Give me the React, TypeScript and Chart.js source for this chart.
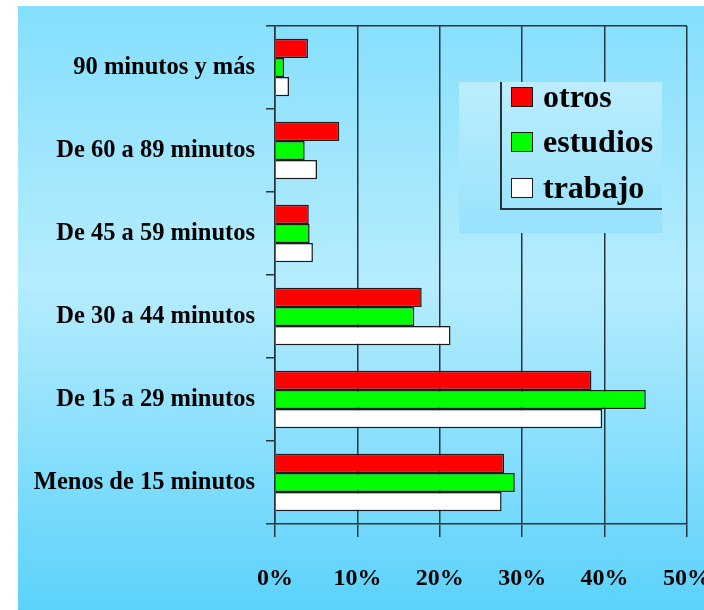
import React, { useEffect, useRef } from "react";
import { Chart, registerables } from "chart.js";

Chart.register(...registerables);

const categories = [
  "90 minutos y más",
  "De 60 a 89 minutos",
  "De 45 a 59 minutos",
  "De 30 a 44 minutos",
  "De 15 a 29 minutos",
  "Menos de 15 minutos",
];
const otros = [4.0, 7.8, 4.1, 17.8, 38.4, 27.8];
const estudios = [1.1, 3.6, 4.2, 16.9, 45.0, 29.1];
const trabajo = [1.7, 5.1, 4.6, 21.3, 39.7, 27.5];
const xTickLabels = ["0%", "10%", "20%", "30%", "40%", "50%"];

const seriesNames = ["otros", "estudios", "trabajo"];
const seriesColors = ["#ff0000", "#00ff00", "#ffffff"];

const FONT = '"Liberation Serif", "Times New Roman", serif';
const LINE = "#26353b";

export default function App() {
  const canvasRef = useRef<HTMLCanvasElement | null>(null);

  useEffect(() => {
    if (!canvasRef.current) return;
    const values = [otros, estudios, trabajo];
    const chart = new Chart(canvasRef.current, {
      type: "bar",
      data: {
        labels: categories,
        datasets: values.map((v, i) => ({
          label: seriesNames[i],
          data: v,
          backgroundColor: seriesColors[i],
          borderColor: "#1c1c1c",
          borderWidth: 1.5,
          categoryPercentage: 0.69,
          barPercentage: 1.0,
        })),
      },
      options: {
        indexAxis: "y",
        animation: false,
        responsive: true,
        maintainAspectRatio: false,
        layout: { padding: { top: 20, left: 0, right: 48, bottom: 0 } },
        plugins: {
          legend: { display: false },
          tooltip: { enabled: false },
        },
        scales: {
          x: {
            min: 0,
            max: 50,
            ticks: {
              stepSize: 10,
              color: "#000",
              padding: 27,
              font: { family: FONT, size: 24, weight: "bold" },
              callback: (_v: any, i: number) => xTickLabels[i],
            },
            grid: {
              color: LINE,
              lineWidth: 1.5,
              tickLength: 13,
              drawTicks: true,
            },
            border: { display: true, color: LINE, width: 1.5 },
            afterFit: (scale: any) => {
              scale.height = 86;
            },
          },
          y: {
            ticks: {
              color: "#000",
              padding: 11,
              font: { family: FONT, size: 24.5, weight: "bold" },
            },
            grid: {
              offset: true,
              color: (ctx: any) => (ctx.index === 0 ? LINE : "rgba(0,0,0,0)"),
              tickColor: LINE,
              lineWidth: 1.5,
              tickLength: 9,
              drawTicks: true,
            },
            border: { display: true, color: LINE, width: 1.5 },
            afterFit: (scale: any) => {
              scale.width = 257;
              scale.paddingTop = 0;
              scale.paddingBottom = 0;
            },
          },
        },
      },
    });
    return () => chart.destroy();
  }, []);

  const rowTops = [-2, 43, 89];

  return (
    <div
      style={{
        position: "absolute",
        left: 0,
        top: 0,
        width: 704,
        height: 610,
        overflow: "hidden",
        background: "#ffffff",
      }}
    >
      <div
        style={{
          position: "absolute",
          left: 18,
          top: 6,
          width: 686,
          height: 604,
          overflow: "hidden",
          background:
            "linear-gradient(to bottom, #84dffc 0%, #b6ecfe 46%, #5bd2fb 100%)",
        }}
      >
        <div style={{ position: "absolute", left: 0, top: 0, width: 720, height: 604 }}>
          <canvas ref={canvasRef} />
        </div>
        <div
          style={{
            position: "absolute",
            left: 459 - 18,
            top: 82 - 6,
            width: 203,
            height: 151,
            background: "linear-gradient(to bottom, #bcedfe 0%, #96e2fd 100%)",
            fontFamily: FONT,
            fontWeight: "bold",
            fontSize: 32,
          }}
        >
          <div
            style={{
              position: "absolute",
              left: 41,
              top: 0,
              width: 162,
              height: 128,
              boxSizing: "border-box",
              borderLeft: `2px solid ${LINE}`,
              borderBottom: `2px solid ${LINE}`,
            }}
          />
          {seriesNames.map((name, i) => (
            <div
              key={name}
              style={{
                position: "absolute",
                left: 52,
                top: rowTops[i],
                lineHeight: "32px",
                whiteSpace: "nowrap",
                color: "#000",
              }}
            >
              <span
                style={{
                  display: "inline-block",
                  width: 22,
                  height: 20,
                  boxSizing: "border-box",
                  border: "1.5px solid #1c1c1c",
                  background: seriesColors[i],
                  marginRight: 10,
                }}
              />
              {name}
            </div>
          ))}
        </div>
      </div>
    </div>
  );
}
